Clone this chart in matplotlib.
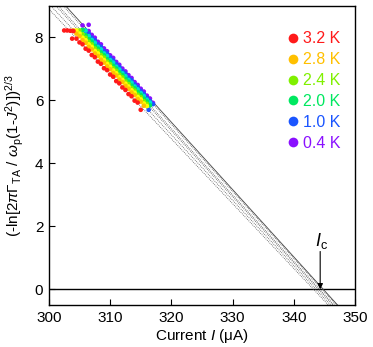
import matplotlib
matplotlib.use("Agg")
import matplotlib.pyplot as plt
from matplotlib.lines import Line2D
import numpy as np

plt.rcParams['font.family'] = ['Liberation Sans', 'DejaVu Sans']
plt.rcParams['mathtext.fontset'] = 'custom'
plt.rcParams['mathtext.rm'] = 'Liberation Sans'
plt.rcParams['mathtext.it'] = 'Liberation Sans:italic'
plt.rcParams['mathtext.sf'] = 'Liberation Sans'

# ---- data ----
x_32 = [302.5, 303.0, 303.5, 304.0, 303.8, 304.5, 305.0, 305.5, 306.0, 306.5, 307.0, 307.5, 308.0, 308.5,
        309.0, 309.5, 310.0, 310.5, 311.0, 311.5, 312.0, 312.5, 313.0, 313.5, 314.0, 314.5, 315.0]
y_32 = [8.22, 8.22, 8.21, 8.20, 7.96, 7.96, 7.84, 7.78, 7.64, 7.58, 7.44, 7.37, 7.23, 7.16,
        7.02, 6.96, 6.82, 6.75, 6.61, 6.54, 6.41, 6.33, 6.20, 6.13, 5.99, 5.93, 5.70]

x_28 = [304.0, 304.5, 305.0, 305.5, 306.0, 306.5, 307.0, 307.5, 308.0, 308.5, 309.0, 309.5,
        310.0, 310.5, 311.0, 311.5, 312.0, 312.5, 313.0, 313.5, 314.0, 314.5, 315.0, 315.5]
y_28 = [8.22, 8.12, 8.04, 7.91, 7.83, 7.70, 7.62, 7.49, 7.41, 7.29, 7.20, 7.08,
        6.99, 6.87, 6.79, 6.66, 6.58, 6.46, 6.37, 6.25, 6.17, 6.04, 5.96, 5.83]

x_26 = [304.5, 305.0, 305.5, 306.0, 306.5, 307.0, 307.5, 308.0, 308.5, 309.0, 309.5, 310.0,
        310.5, 311.0, 311.5, 312.0, 312.5, 313.0, 313.5, 314.0, 314.5, 315.0, 315.5, 316.0]
y_26 = [8.22, 8.12, 7.99, 7.91, 7.78, 7.70, 7.57, 7.49, 7.36, 7.28, 7.16, 7.07,
        6.95, 6.86, 6.74, 6.65, 6.53, 6.44, 6.32, 6.24, 6.11, 6.03, 5.90, 5.82]

x_24 = [305.0, 305.5, 306.0, 306.5, 307.0, 307.5, 308.0, 308.5, 309.0, 309.5, 310.0, 310.5,
        311.0, 311.5, 312.0, 312.5, 313.0, 313.5, 314.0, 314.5, 315.0, 315.5, 316.0]
y_24 = [8.22, 8.10, 7.99, 7.86, 7.78, 7.65, 7.57, 7.44, 7.36, 7.23, 7.15, 7.02,
        6.94, 6.81, 6.73, 6.60, 6.52, 6.39, 6.31, 6.18, 6.10, 5.97, 5.89]

x_20 = [305.5, 306.0, 306.5, 307.0, 307.5, 308.0, 308.5, 309.0, 309.5, 310.0, 310.5, 311.0,
        311.5, 312.0, 312.5, 313.0, 313.5, 314.0, 314.5, 315.0, 315.5, 316.0, 316.5]
y_20 = [8.24, 8.07, 7.94, 7.86, 7.73, 7.64, 7.52, 7.43, 7.31, 7.22, 7.10, 7.01,
        6.89, 6.80, 6.68, 6.59, 6.47, 6.38, 6.26, 6.17, 6.05, 5.96, 5.84]

x_15 = [306.0, 306.5, 307.0, 307.5, 308.0, 308.5, 309.0, 309.5, 310.0, 310.5, 311.0, 311.5,
        312.0, 312.5, 313.0, 313.5, 314.0, 314.5, 315.0, 315.5, 316.0, 316.5]
y_15 = [8.22, 8.04, 7.92, 7.83, 7.70, 7.62, 7.49, 7.41, 7.28, 7.20, 7.07, 6.98,
        6.86, 6.77, 6.65, 6.56, 6.44, 6.35, 6.23, 6.14, 6.02, 5.93]

x_10 = [306.0, 306.5, 307.0, 307.5, 308.0, 308.5, 309.0, 309.5, 310.0, 310.5, 311.0, 311.5,
        312.0, 312.5, 313.0, 313.5, 314.0, 314.5, 315.0, 315.5, 316.0, 316.5, 316.3, 317.0]
y_10 = [8.20, 8.12, 7.99, 7.91, 7.78, 7.70, 7.57, 7.49, 7.36, 7.27, 7.15, 7.06,
        6.93, 6.85, 6.72, 6.64, 6.51, 6.42, 6.30, 6.21, 6.08, 5.98, 5.70, 5.88]

x_04 = [305.5, 306.0, 306.5, 306.5, 307.0, 307.5, 308.0, 308.5, 309.0, 309.5, 310.0, 310.5,
        311.0, 311.5, 312.0, 312.5, 313.0, 313.5, 314.0, 314.5, 315.0, 315.5, 316.0, 316.5, 317.0]
y_04 = [8.38, 8.22, 8.20, 8.40, 8.08, 7.99, 7.86, 7.78, 7.65, 7.56, 7.43, 7.35,
        7.22, 7.13, 7.01, 6.92, 6.80, 6.71, 6.58, 6.49, 6.37, 6.28, 6.15, 6.06, 5.92]

# fitted lines: critical current (zero crossing) and slope for the labelled temperatures
fit_ic = [343.2, 343.6, 344.0, 344.2, 344.6, 344.8]
fit_slope = [0.206, 0.208, 0.210, 0.211, 0.213, 0.214]

labels = ['3.2 K', '2.8 K', '2.4 K', '2.0 K', '1.0 K', '0.4 K']
legend_colors = ['#ff1a1a', '#ffc000', '#80f000', '#00e860', '#1a55ff', '#8a10ff']

series = [
    (x_04, y_04, '#8a10ff'),
    (x_10, y_10, '#1a55ff'),
    (x_15, y_15, '#00e0d0'),
    (x_20, y_20, '#00e860'),
    (x_24, y_24, '#80f000'),
    (x_26, y_26, '#ffff00'),
    (x_28, y_28, '#ffc000'),
    (x_32, y_32, '#ff1a1a'),
]

ic_arrow = 344.3

fig = plt.figure(figsize=(3.73, 3.47), dpi=100)
ax = fig.add_axes([0.131, 0.121, 0.821, 0.862])

for xs, ys, c in series:
    ax.scatter(xs, ys, s=11, color=c, edgecolors='none', zorder=3)

xf = np.linspace(298, 350, 100)
for i, (ic, a) in enumerate(zip(fit_ic, fit_slope)):
    if i == len(fit_ic) - 1:
        ax.plot(xf, a * (ic - xf), color='#444444', lw=0.6, ls='-', zorder=2)
    else:
        ax.plot(xf, a * (ic - xf), color='#555555', lw=0.6, ls=(0, (1, 1.3)), zorder=2)

ax.axhline(0, color='black', lw=1.0, zorder=1)

ax.annotate('', xy=(ic_arrow, 0.0), xytext=(ic_arrow, 1.2),
            arrowprops=dict(arrowstyle='-|>', color='black', lw=0.8,
                            mutation_scale=8, shrinkA=0, shrinkB=0))
ax.text(ic_arrow + 0.2, 1.22, r'$I_{\mathrm{c}}$', fontsize=13, ha='center', va='bottom')

handles = [Line2D([], [], marker='o', ls='', color=c, markersize=7, markeredgewidth=0)
           for c in legend_colors]
leg = ax.legend(handles, labels, loc='upper right', bbox_to_anchor=(0.952, 0.915),
                frameon=False, fontsize=11.5, labelcolor=legend_colors,
                handlelength=0.6, handletextpad=0.3, labelspacing=0.37,
                borderaxespad=0, borderpad=0)

ax.set_xlim(300, 350)
ax.set_ylim(-0.5, 9.0)
ax.set_xticks([300, 310, 320, 330, 340, 350])
ax.set_yticks([0, 2, 4, 6, 8])
ax.tick_params(direction='in', length=4, width=0.8, labelsize=11, pad=4,
               top=False, right=False)
for s in ax.spines.values():
    s.set_linewidth(1.0)

ax.set_xlabel(r'Current $I$ ($\mathrm{\mu}$A)', fontsize=11, labelpad=2)
ax.set_ylabel(r'(-ln[2$\pi\Gamma_{\mathrm{TA}}$ / $\omega_{\mathrm{p}}$(1-$J^2$)])$^{2/3}$',
              fontsize=11, labelpad=6)

fig.savefig('out.png', dpi=100)
